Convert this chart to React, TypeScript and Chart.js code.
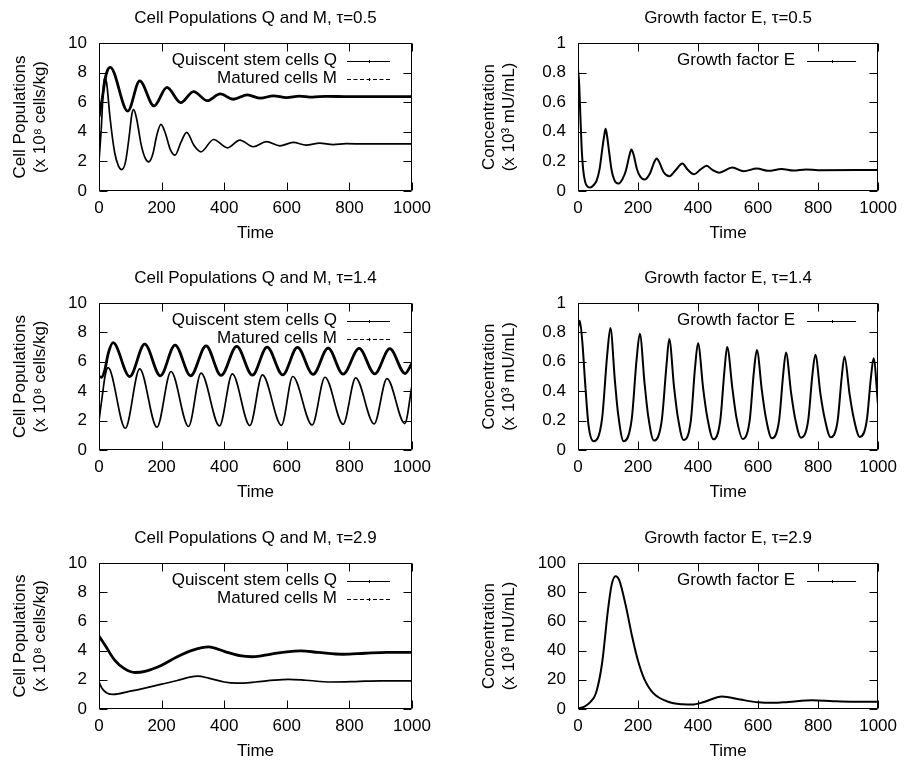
import React, { useEffect, useRef } from 'react';
import { Chart, registerables } from 'chart.js';

Chart.register(...registerables);

const FONT = '"Liberation Sans", Arial, Helvetica, sans-serif';
Chart.defaults.font.family = FONT;
Chart.defaults.color = '#000';

// ---------- tick labels ----------
const timeTicks = [0, 200, 400, 600, 800, 1000];
const cellTicks = [0, 2, 4, 6, 8, 10];
const concTicksSmall = [0, 0.2, 0.4, 0.6, 0.8, 1];
const concTicksLarge = [0, 20, 40, 60, 80, 100];

// ---------- tau = 0.5 ----------
const tQ05 = [0, 10, 20, 28, 36, 92, 130, 176, 217, 261, 302, 346, 387, 429, 474, 516, 557, 599, 640, 682, 725, 800, 900, 1000];
const q05 = [5.0, 6.2, 7.6, 8.2, 8.35, 5.4, 7.44, 5.75, 7.0, 5.97, 6.72, 6.1, 6.56, 6.2, 6.49, 6.27, 6.43, 6.31, 6.41, 6.34, 6.4, 6.37, 6.38, 6.38];
const tM05 = [0, 8, 14, 19, 25, 35, 50, 62, 73, 85, 97, 105, 111, 120, 135, 148, 159, 172, 185, 198, 212, 228, 243, 262, 280, 303, 326, 366, 411, 450, 493, 535, 578, 620, 662, 705, 748, 790, 850, 1000];
const m05 = [2.0, 4.5, 7.0, 7.7, 7.2, 5.0, 2.6, 1.7, 1.45, 2.0, 3.8, 5.2, 5.5, 4.9, 3.1, 2.2, 1.97, 2.5, 3.8, 4.5, 3.9, 2.8, 2.42, 3.3, 3.96, 3.1, 2.65, 3.48, 2.92, 3.44, 2.99, 3.33, 3.05, 3.28, 3.1, 3.24, 3.14, 3.2, 3.18, 3.18];
const tE05 = [0, 4, 8, 12, 17, 24, 32, 41, 52, 62, 72, 80, 87, 92, 97, 104, 112, 121, 134, 148, 160, 170, 178, 186, 196, 208, 222, 240, 253, 262, 272, 286, 305, 325, 348, 365, 387, 408, 429, 448, 470, 514, 552, 596, 635, 678, 718, 760, 800, 1000];
const e05 = [0.82, 0.72, 0.5, 0.3, 0.15, 0.06, 0.03, 0.023, 0.04, 0.07, 0.15, 0.27, 0.37, 0.42, 0.37, 0.26, 0.14, 0.075, 0.05, 0.08, 0.14, 0.23, 0.28, 0.24, 0.15, 0.095, 0.077, 0.12, 0.19, 0.22, 0.19, 0.125, 0.1, 0.14, 0.185, 0.145, 0.113, 0.145, 0.17, 0.142, 0.124, 0.158, 0.133, 0.152, 0.136, 0.149, 0.138, 0.146, 0.14, 0.142];

// ---------- tau = 1.4 ----------
const tQ14 = [0, 8, 18, 30, 45, 98, 146, 196, 243, 293, 342, 390, 440, 490, 537, 587, 634, 684, 732, 780, 831, 881, 929, 978, 1000];
const q14 = [5.0, 4.95, 5.4, 6.6, 7.3, 5.0, 7.2, 5.05, 7.14, 5.05, 7.09, 5.07, 7.05, 5.09, 7.0, 5.11, 6.98, 5.14, 6.93, 5.16, 6.91, 5.18, 6.89, 5.2, 5.9];
const tM14 = [0, 10, 20, 29, 84, 130, 185, 230, 286, 326, 385, 426, 482, 522, 583, 619, 681, 722, 780, 820, 879, 920, 977, 1000];
const m14 = [2.0, 3.6, 5.1, 5.6, 1.48, 5.52, 1.55, 5.34, 1.6, 5.23, 1.64, 5.18, 1.66, 5.11, 1.68, 5.0, 1.7, 4.95, 1.75, 4.9, 1.77, 4.86, 1.8, 4.4];
const tE14 = [0, 6, 15, 24, 35, 52, 80, 97, 108, 123, 134, 152, 179, 195, 206, 222, 234, 253, 279, 295, 304, 320, 333, 352, 376, 390, 400, 417, 431, 451, 474, 488, 497, 515, 528, 549, 572, 586, 596, 613, 626, 646, 670, 684, 693, 710, 723, 743, 767, 781, 791, 808, 822, 842, 865, 879, 888, 905, 919, 939, 962, 976, 985, 1000];
const e14 = [0.83, 0.88, 0.72, 0.45, 0.17, 0.06, 0.21, 0.64, 0.83, 0.47, 0.24, 0.06, 0.21, 0.61, 0.79, 0.45, 0.23, 0.064, 0.2, 0.58, 0.755, 0.43, 0.22, 0.068, 0.2, 0.56, 0.727, 0.42, 0.22, 0.073, 0.2, 0.54, 0.70, 0.41, 0.22, 0.075, 0.2, 0.53, 0.68, 0.40, 0.22, 0.08, 0.2, 0.52, 0.664, 0.39, 0.22, 0.084, 0.2, 0.51, 0.648, 0.38, 0.215, 0.086, 0.196, 0.5, 0.636, 0.38, 0.215, 0.089, 0.196, 0.49, 0.625, 0.3];

// ---------- tau = 2.9 ----------
const tQ29 = [0, 20, 50, 80, 116, 150, 200, 250, 300, 350, 400, 450, 490, 550, 600, 645, 700, 780, 850, 920, 1000];
const q29 = [5.0, 4.35, 3.35, 2.78, 2.5, 2.6, 3.0, 3.58, 4.03, 4.25, 3.95, 3.65, 3.58, 3.76, 3.92, 3.98, 3.88, 3.75, 3.82, 3.88, 3.88];
const tM29 = [0, 10, 25, 45, 100, 150, 200, 250, 290, 315, 350, 400, 440, 500, 560, 605, 660, 740, 820, 900, 1000];
const m29 = [1.85, 1.4, 1.1, 1.0, 1.22, 1.45, 1.7, 1.95, 2.18, 2.25, 2.12, 1.85, 1.77, 1.85, 1.98, 2.03, 1.97, 1.85, 1.88, 1.93, 1.92];
const tE29 = [0, 20, 40, 60, 80, 100, 112, 125, 138, 160, 180, 200, 220, 250, 300, 350, 380, 420, 480, 540, 600, 650, 700, 780, 850, 920, 1000];
const e29 = [0.5, 1.5, 4.5, 11, 31, 68, 85, 91, 88, 70, 50, 33, 21, 11, 5, 3.2, 3.0, 4.8, 8.6, 6.5, 4.6, 4.2, 4.8, 6.0, 5.3, 4.9, 5.0];

const LABEL_Q = 'Quiscent stem cells Q';
const LABEL_M = 'Matured cells M';
const LABEL_E = 'Growth factor E';
const CELL_Y_TITLE = ['Cell Populations', '(x 10\u2078 cells/kg)'];
const CONC_Y_TITLE = ['Concentration', '(x 10\u00B3 mU/mL)'];

type Series = { label: string; t: number[]; v: number[]; width: number; keyDash: number[] };
type PanelSpec = { title: string; yTitle: string[]; yTicks: number[]; series: Series[]; col: 0 | 1; top: number; plotH: number };

const qSeries = (t: number[], v: number[]): Series => ({ label: LABEL_Q, t, v, width: 2.8, keyDash: [] });
const mSeries = (t: number[], v: number[]): Series => ({ label: LABEL_M, t, v, width: 1.7, keyDash: [4, 2.5] });
const eSeries = (t: number[], v: number[]): Series => ({ label: LABEL_E, t, v, width: 2, keyDash: [] });

const panels: PanelSpec[] = [
  { title: 'Cell Populations Q and M, \u03C4=0.5', yTitle: CELL_Y_TITLE, yTicks: cellTicks, series: [qSeries(tQ05, q05), mSeries(tM05, m05)], col: 0, top: 0, plotH: 148 },
  { title: 'Growth factor E, \u03C4=0.5', yTitle: CONC_Y_TITLE, yTicks: concTicksSmall, series: [eSeries(tE05, e05)], col: 1, top: 0, plotH: 148 },
  { title: 'Cell Populations Q and M, \u03C4=1.4', yTitle: CELL_Y_TITLE, yTicks: cellTicks, series: [qSeries(tQ14, q14), mSeries(tM14, m14)], col: 0, top: 260, plotH: 147 },
  { title: 'Growth factor E, \u03C4=1.4', yTitle: CONC_Y_TITLE, yTicks: concTicksSmall, series: [eSeries(tE14, e14)], col: 1, top: 260, plotH: 147 },
  { title: 'Cell Populations Q and M, \u03C4=2.9', yTitle: CELL_Y_TITLE, yTicks: cellTicks, series: [qSeries(tQ29, q29), mSeries(tM29, m29)], col: 0, top: 520, plotH: 146 },
  { title: 'Growth factor E, \u03C4=2.9', yTitle: CONC_Y_TITLE, yTicks: concTicksLarge, series: [eSeries(tE29, e29)], col: 1, top: 520, plotH: 146 },
];

const gnuFrame = {
  id: 'gnuFrame',
  afterDatasetsDraw(chart: any, _args: any, opts: any) {
    const { ctx, chartArea: a, scales } = chart;
    ctx.save();
    ctx.strokeStyle = '#000';
    ctx.lineWidth = 1;
    const L = Math.round(a.left) + 0.5;
    const R = Math.round(a.right) - 0.5;
    const T = Math.round(a.top) + 0.5;
    const B = Math.round(a.bottom) - 0.5;
    ctx.beginPath();
    ctx.rect(L, T, R - L, B - T);
    const tl = 8;
    for (const tk of scales.x.ticks) {
      const x = Math.round(scales.x.getPixelForValue(tk.value)) + 0.5;
      ctx.moveTo(x, B); ctx.lineTo(x, B - tl);
      ctx.moveTo(x, T); ctx.lineTo(x, T + tl);
    }
    for (const tk of scales.y.ticks) {
      const y = Math.round(scales.y.getPixelForValue(tk.value)) + 0.5;
      ctx.moveTo(L, y); ctx.lineTo(L + tl, y);
      ctx.moveTo(R, y); ctx.lineTo(R - tl, y);
    }
    ctx.stroke();

    // gnuplot-style key
    ctx.font = `17px ${FONT}`;
    ctx.fillStyle = '#000';
    ctx.textAlign = 'right';
    ctx.textBaseline = 'middle';
    chart.data.datasets.forEach((ds: any, i: number) => {
      const y = a.top + opts.keyTop + i * 18;
      ctx.fillText(ds.label, a.right - opts.textGap, y);
      const yy = Math.round(y) + 0.5;
      const x0 = a.right - opts.lineStart;
      const x1 = a.right - 22;
      ctx.beginPath();
      ctx.setLineDash(ds.keyDash || []);
      ctx.lineWidth = 1;
      ctx.moveTo(x0, yy);
      ctx.lineTo(x1, yy);
      ctx.stroke();
      ctx.setLineDash([]);
      const xm = Math.round((x0 + x1) / 2) + 0.5;
      ctx.beginPath();
      ctx.moveTo(xm, yy - 1.5);
      ctx.lineTo(xm, yy + 1.5);
      ctx.stroke();
    });
    ctx.restore();
  },
};

const fmt = (v: number) => String(Number(Number(v).toFixed(2)));

function Panel({ spec }: { spec: PanelSpec }) {
  const ref = useRef<HTMLCanvasElement>(null);
  const isLeft = spec.col === 0;
  const H = 43 + spec.plotH + 53;
  useEffect(() => {
    if (!ref.current) return;
    const yW = isLeft ? 99 : 126;
    const padR = isLeft ? 40 : 23;
    const yT = spec.yTicks;
    const chart = new Chart(ref.current, {
      type: 'line',
      data: {
        datasets: spec.series.map((s) => ({
          label: s.label,
          data: s.t.map((t, i) => ({ x: t, y: s.v[i] })),
          borderColor: '#000',
          backgroundColor: '#000',
          borderWidth: s.width,
          pointRadius: 0,
          cubicInterpolationMode: 'monotone',
          fill: false,
          keyDash: s.keyDash,
        })) as any,
      },
      options: {
        responsive: false,
        animation: false,
        events: [],
        layout: { padding: { left: 0, right: padR, top: 0, bottom: 0 } },
        plugins: {
          legend: { display: false },
          tooltip: { enabled: false },
          title: {
            display: true,
            text: spec.title,
            fullSize: false,
            color: '#000',
            font: { family: FONT, size: 17, weight: 'normal', lineHeight: 1 },
            padding: { top: 10, bottom: 16 },
          },
          gnuFrame: {
            keyTop: 17.5,
            textGap: isLeft ? 75 : 83,
            lineStart: isLeft ? 65 : 71,
          },
        } as any,
        scales: {
          x: {
            type: 'linear',
            min: timeTicks[0],
            max: timeTicks[timeTicks.length - 1],
            afterBuildTicks: (s: any) => { s.ticks = timeTicks.map((v) => ({ value: v })); },
            afterFit: (s: any) => { s.height = 53; },
            grid: { display: false, drawTicks: false },
            border: { display: false },
            ticks: { color: '#000', font: { family: FONT, size: 17 }, padding: 7, maxRotation: 0, autoSkip: false, callback: (v: any) => fmt(v) },
            title: { display: true, text: 'Time', color: '#000', font: { family: FONT, size: 17 }, padding: { top: 0, bottom: 0 } },
          },
          y: {
            type: 'linear',
            min: yT[0],
            max: yT[yT.length - 1],
            afterBuildTicks: (s: any) => { s.ticks = yT.map((v) => ({ value: v })); },
            afterFit: (s: any) => { s.width = yW; },
            grid: { display: false, drawTicks: false },
            border: { display: false },
            ticks: { color: '#000', font: { family: FONT, size: 17 }, padding: 12, autoSkip: false, callback: (v: any) => fmt(v) },
            title: { display: true, text: spec.yTitle, color: '#000', font: { family: FONT, size: 17 }, padding: { top: isLeft ? 10 : 27, bottom: 0 } },
          },
        } as any,
      },
      plugins: [gnuFrame as any],
    });
    return () => chart.destroy();
  }, [spec]);
  return (
    <canvas
      ref={ref}
      width={452}
      height={H}
      style={{ position: 'absolute', left: isLeft ? 0 : 452, top: spec.top, width: 452, height: H }}
    />
  );
}

export default function App() {
  return (
    <div style={{ position: 'absolute', left: 0, top: 0, width: 904, height: 762, background: '#fff', overflow: 'hidden' }}>
      {panels.map((p, i) => (
        <Panel key={i} spec={p} />
      ))}
    </div>
  );
}
